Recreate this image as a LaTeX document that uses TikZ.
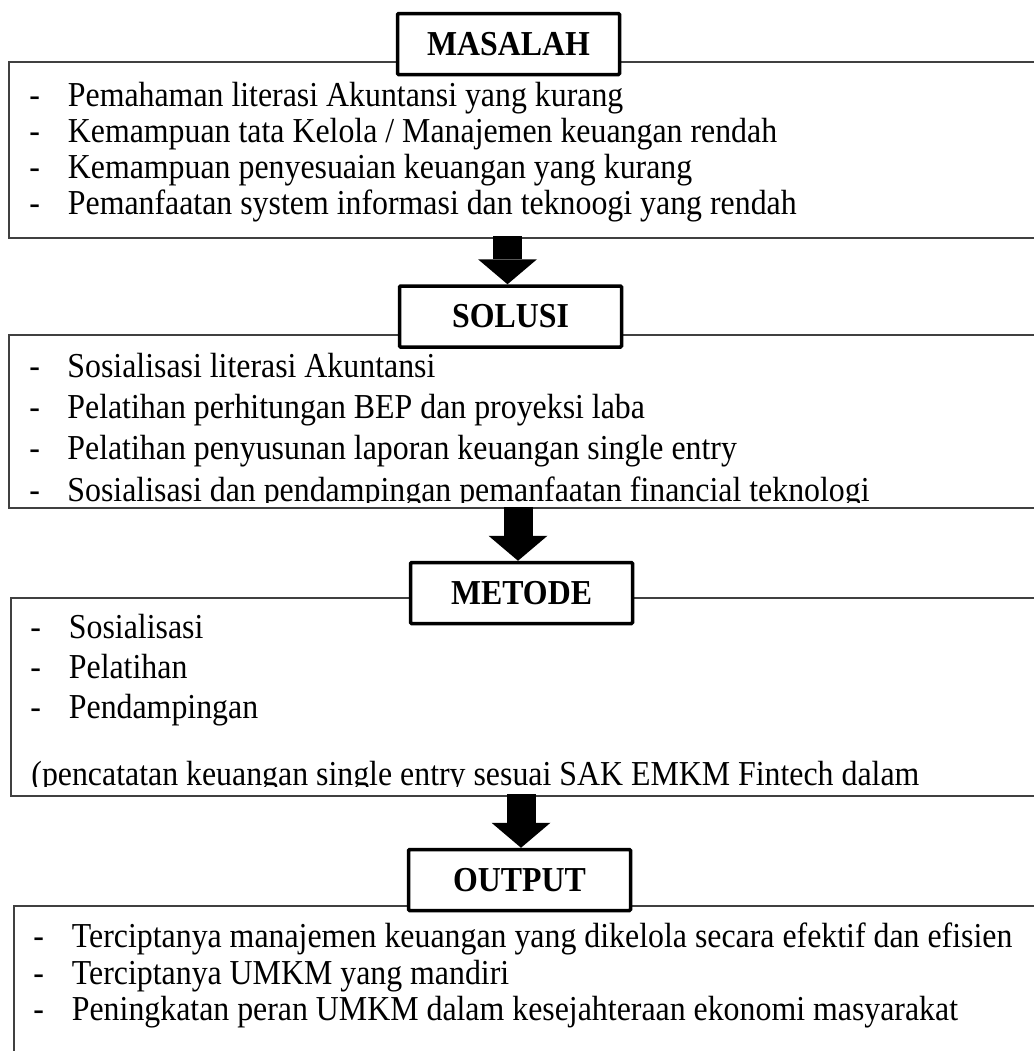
\documentclass[tikz,border=0pt]{standalone}
\usepackage{fontspec}
\setmainfont[FakeStretch=0.91]{Liberation Serif}
\usetikzlibrary{arrows.meta,positioning}

\begin{document}
\begin{tikzpicture}[
  x=0.5pt,
  y=-0.5pt,
  panel/.style={
    draw=black!75,
    line width=0.8pt,
    anchor=north west,
    minimum width=520pt,
    inner sep=0pt
  },
  heading/.style={
    draw=black,
    line width=1.75pt,
    rounded corners=0.6pt,
    fill=white,
    minimum width=111pt,
    minimum height=30.5pt,
    inner sep=0pt,
    font=\fontsize{17.5}{20}\selectfont\bfseries
  },
  bullet/.style={anchor=base west, inner sep=0pt, font=\fontsize{17.5}{20}\selectfont},
  item/.style={anchor=base west, inner sep=0pt, font=\fontsize{17.5}{20}\selectfont},
  flow/.style={line width=14.5pt, -{Triangle[width=29.5pt,length=12.5pt,line width=0pt]}, black}
]
  \useasboundingbox (0,0) rectangle (1034,1051);
  \clip (0,0) rectangle (1034,1051);

  % masalah
  \node[panel, minimum height=88pt] (ma-panel) at (8,61) {};
  \foreach \txt [count=\i] in {
      Pemahaman literasi Akuntansi yang kurang,
      Kemampuan tata Kelola / Manajemen keuangan rendah,
      Kemampuan penyesuaian keuangan yang kurang,
      Pemanfaatan system informasi dan teknoogi yang rendah} {
    \node[bullet] (ma-b\i) at (29,{70+36*\i}) {-};
    \node[item] (ma-\i) at (67.5,{70+36*\i}) {\txt};
  }
  \node[heading] (ma-head) at (508.5,44) {MASALAH};

  % solusi
  \node[panel, minimum height=86.5pt] (so-panel) at (8,334) {};
  \begin{scope}
    \clip (0,334) rectangle (1034,502);
    \foreach \txt [count=\i] in {
        Sosialisasi literasi Akuntansi,
        Pelatihan perhitungan BEP dan proyeksi laba,
        Pelatihan penyusunan laporan keuangan single entry,
        Sosialisasi dan pendampingan pemanfaatan financial teknologi} {
      \node[bullet] (so-b\i) at (29,{336+41.3*\i}) {-};
      \node[item] (so-\i) at (67,{336+41.3*\i}) {\txt};
    }
  \end{scope}
  \node[heading] (so-head) at (510.5,316.5) {SOLUSI};

  % metode
  \node[panel, minimum height=99pt] (me-panel) at (10,597) {};
  \begin{scope}
    \clip (0,597) rectangle (1034,786);
    \foreach \txt [count=\i] in {Sosialisasi, Pelatihan, Pendampingan} {
      \node[bullet] (me-b\i) at (30,{598+40*\i}) {-};
      \node[item] (me-\i) at (68.5,{598+40*\i}) {\txt};
    }
    \node[item] (me-note) at (31,785)
      {(pencatatan keuangan single entry sesuai SAK EMKM Fintech dalam};
  \end{scope}
  \node[heading] (me-head) at (521.5,593) {METODE};

  % output
  \node[panel, minimum height=90pt] (ou-panel) at (13,905) {};
  \foreach \txt [count=\i] in {
      Terciptanya manajemen keuangan yang dikelola secara efektif dan efisien,
      Terciptanya UMKM yang mandiri,
      Peningkatan peran UMKM dalam kesejahteraan ekonomi masyarakat} {
    \node[bullet] (ou-b\i) at (33,{911+36.5*\i}) {-};
    \node[item] (ou-\i) at (71.5,{911+36.5*\i}) {\txt};
  }
  \node[heading] (ou-head) at (519.5,880) {OUTPUT};

  % block arrows
  \coordinate (ar-1) at (507.5,236);
  \coordinate (ar-2) at (518,507);
  \coordinate (ar-3) at (521,794);
  \draw[flow] (ar-1) -- (ar-1 |- so-head.north);
  \draw[flow] (ar-2) -- (ar-2 |- me-head.north);
  \draw[flow] (ar-3) -- (ar-3 |- ou-head.north);
\end{tikzpicture}
\end{document}
